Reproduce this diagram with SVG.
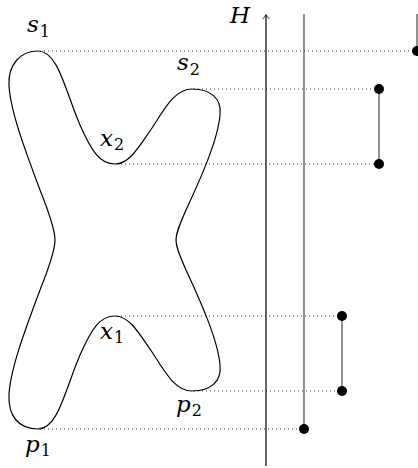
<svg xmlns="http://www.w3.org/2000/svg" width="418" height="468" viewBox="0 0 418 468">
<style>
.dot{stroke:#333;stroke-width:1;stroke-dasharray:1 3;fill:none}
.bar{stroke:#555;stroke-width:1.3;fill:none}
.pt{fill:#000}
.m{font-family:"DejaVu Serif",serif;font-style:italic;font-size:23px}
.s{font-family:"DejaVu Serif",serif;font-style:normal;font-size:16px}
</style>
<defs>
<marker id="arr" markerWidth="8" markerHeight="8" refX="4" refY="1" orient="0" markerUnits="userSpaceOnUse">
<path d="M0.5 5 Q3 3 4 0.5 Q5 3 7.5 5" fill="none" stroke="#000" stroke-width="0.8"/>
</marker>
</defs>
<g id="shape">
<path d="M38 51 C58 51 65 90 80 125 C92 152 100 164 115 164 C130 164 140 145 152 128 C165 108 175 89 192 89 C210 89 222 98 220 115 C218 140 200 180 186 210 C180 224 176 232 176 240 C176 248 180 256 186 270 C200 300 218 340 220 365 C222 382 210 391 192 391 C175 391 165 372 152 352 C140 335 130 316 115 316 C100 316 92 328 80 355 C65 390 58 429 38 429 C18 429 8 415 9 395 C10 370 25 330 40 290 C50 265 55 250 55 240 C55 230 50 215 40 190 C25 150 10 110 9 85 C8 65 20 51 38 51 Z" fill="none" stroke="#000" stroke-width="1.2"/>
</g>
<g id="connectors">
<line class="dot" x1="40" y1="51" x2="417" y2="51"/>
<line class="dot" x1="194" y1="89" x2="379" y2="89"/>
<line class="dot" x1="117" y1="164" x2="379" y2="164"/>
<line class="dot" x1="117" y1="316" x2="342" y2="316"/>
<line class="dot" x1="194" y1="391" x2="342" y2="391"/>
<line class="dot" x1="40" y1="429" x2="304" y2="429"/>
<line x1="266" y1="466" x2="266" y2="15" stroke="#000" stroke-width="1.2" marker-end="url(#arr)"/>
<line class="bar" x1="304" y1="14" x2="304" y2="429"/>
<line class="bar" x1="417" y1="14" x2="417" y2="51"/>
<line class="bar" x1="379" y1="89" x2="379" y2="164"/>
<line class="bar" x1="342" y1="316" x2="342" y2="391"/>
</g>
<g id="points">
<circle class="pt" cx="417" cy="51" r="5"/>
<circle class="pt" cx="379" cy="89" r="5"/>
<circle class="pt" cx="379" cy="164" r="5"/>
<circle class="pt" cx="342" cy="316" r="5"/>
<circle class="pt" cx="342" cy="391" r="5"/>
<circle class="pt" cx="304" cy="429" r="5"/>
</g>
<g id="labels" fill="#000">
<text class="m" x="230" y="23">H</text>
<text x="27" y="32"><tspan class="m">s</tspan><tspan class="s" dx="1" dy="5">1</tspan></text>
<text x="177" y="70"><tspan class="m">s</tspan><tspan class="s" dx="1" dy="5">2</tspan></text>
<text x="100" y="146"><tspan class="m">x</tspan><tspan class="s" dx="1" dy="4">2</tspan></text>
<text x="100" y="339"><tspan class="m">x</tspan><tspan class="s" dx="1" dy="4">1</tspan></text>
<text x="176" y="412"><tspan class="m">p</tspan><tspan class="s" dx="1" dy="4">2</tspan></text>
<text x="25" y="452"><tspan class="m">p</tspan><tspan class="s" dx="1" dy="4">1</tspan></text>
</g>
</svg>
